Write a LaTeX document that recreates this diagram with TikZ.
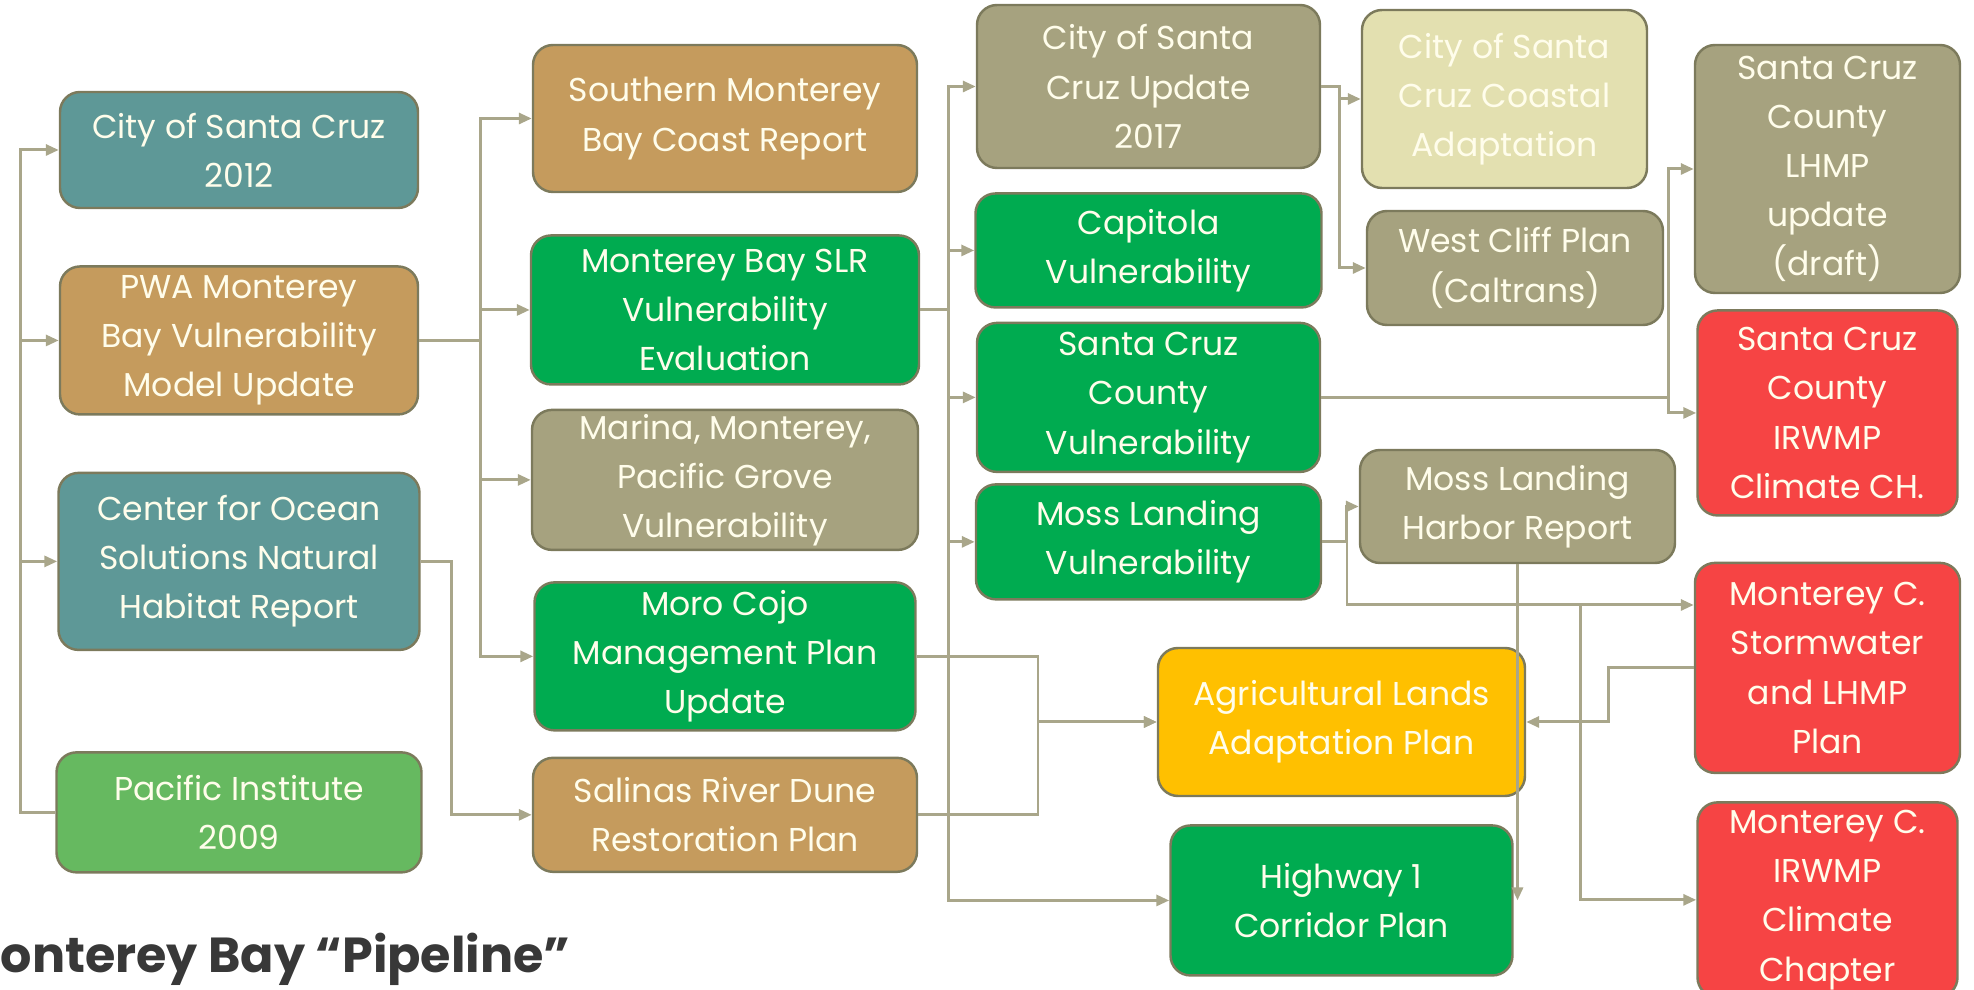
\documentclass[tikz,border=0pt]{standalone}
\usepackage{fontspec}
\setmainfont{Poppins}
\usepackage{xcolor}
\usetikzlibrary{positioning, arrows.meta}

\definecolor{boxteal}{HTML}{5E9897}
\definecolor{boxtan}{HTML}{C59B5D}
\definecolor{boxkhaki}{HTML}{A6A27F}
\definecolor{boxpale}{HTML}{E3E0B0}
\definecolor{boxgreen}{HTML}{00AB50}
\definecolor{boxlime}{HTML}{66B960}
\definecolor{boxamber}{HTML}{FFC000}
\definecolor{boxred}{HTML}{F64444}
\definecolor{rim}{HTML}{7C7A5C}
\definecolor{wirecol}{HTML}{A9A68A}
\definecolor{cream}{HTML}{FFFDEB}
\definecolor{titlegray}{HTML}{383838}

\tikzset{
  box/.style={rectangle, rounded corners=2mm, draw=rim, line width=0.7pt,
    text=cream, align=center, inner sep=0pt,
    font=\fontsize{9.4}{14}\selectfont},
  dims/.style 2 args={minimum width=#1, minimum height=#2},
  wire/.style={draw=wirecol, line width=0.85pt,
    -{Triangle[length=1.3mm, width=1.1mm]}}
}

\begin{document}
\begin{tikzpicture}[x=0.1mm, y=-0.1mm]
  \useasboundingbox (0,0) rectangle (1974,990);
  \clip (0,0) rectangle (1974,990);

  % sources on the left
  \node[box, fill=boxteal, dims={35.8mm}{11.6mm}] (cs12) at (239,150) {City of Santa Cruz\\2012};
  \node[box, fill=boxtan, dims={35.8mm}{14.8mm}, below=5.6mm of cs12] (pwa) {PWA Monterey\\Bay Vulnerability\\Model Update};
  \node[box, fill=boxteal, dims={36.1mm}{17.7mm}, below=5.6mm of pwa] (cos) {Center for Ocean\\Solutions Natural\\Habitat Report};
  \node[box, fill=boxlime, dims={36.5mm}{12mm}, below=10mm of cos] (pac) {Pacific Institute\\2009};

  % second column
  \node[box, fill=boxtan, dims={38.4mm}{14.7mm}] (smb) at (725,118.5) {Southern Monterey\\Bay Coast Report};
  \node[box, fill=boxgreen, dims={38.8mm}{14.9mm}, below=4.1mm of smb] (slr) {Monterey Bay SLR\\Vulnerability\\Evaluation};
  \node[box, fill=boxkhaki, dims={38.6mm}{14mm}, below=2.3mm of slr] (mmp) {Marina, Monterey,\\Pacific Grove\\Vulnerability};
  \node[box, fill=boxgreen, dims={38.1mm}{14.8mm}, below=3mm of mmp] (moro) {Moro Cojo\\Management Plan\\Update};
  \node[box, fill=boxtan, dims={38.4mm}{11.4mm}, below=2.5mm of moro] (sal) {Salinas River Dune\\Restoration Plan};

  % third column
  \node[box, fill=boxkhaki, dims={34.3mm}{16.3mm}] (up17) at (1148.5,86.5) {City of Santa\\Cruz Update\\2017};
  \node[box, fill=boxgreen, dims={34.6mm}{11.4mm}, below=2.3mm of up17] (cap) {Capitola\\Vulnerability};
  \node[box, fill=boxgreen, dims={34.3mm}{14.9mm}, below=1.3mm of cap] (scv) {Santa Cruz\\County\\Vulnerability};
  \node[box, fill=boxgreen, dims={34.5mm}{11.5mm}, below=1mm of scv] (mlv) {Moss Landing\\Vulnerability};

  % fourth column
  \node[box, fill=boxpale, dims={28.5mm}{17.8mm}] (cca) at (1504.5,99) {City of Santa\\Cruz Coastal\\Adaptation};
  \node[box, fill=boxkhaki, dims={29.6mm}{11.4mm}] (wcp) at (1515,268) {West Cliff Plan\\(Caltrans)};
  \node[box, fill=boxkhaki, dims={31.5mm}{11.3mm}] (mlh) at (1517.5,506.5) {Moss Landing\\Harbor Report};
  \node[box, fill=boxamber, dims={36.7mm}{14.8mm}] (agr) at (1341.5,722) {Agricultural Lands\\Adaptation Plan};
  \node[box, fill=boxgreen, dims={34.2mm}{15mm}, below=2.7mm of agr] (hwy) {Highway 1\\Corridor Plan};

  % county plans on the right
  \node[box, fill=boxkhaki, dims={26.5mm}{24.8mm}] (lhmp) at (1827.5,169) {Santa Cruz\\County\\LHMP\\update\\(draft)};
  \node[box, fill=boxred, dims={26mm}{20.5mm}, below=1.5mm of lhmp] (scirw) {Santa Cruz\\County\\IRWMP\\Climate CH.};
  \node[box, fill=boxred, dims={26.5mm}{21mm}, below=4.5mm of scirw] (mcsw) {Monterey C.\\Stormwater\\and LHMP\\Plan};
  \node[box, fill=boxred, dims={26mm}{19.5mm}, below=2.7mm of mcsw] (mcirw) {Monterey C.\\IRWMP\\Climate\\Chapter};

  \node[anchor=base west, inner sep=0pt, text=titlegray, font=\fontsize{14}{16}\selectfont\bfseries] (title) at (0,973) {onterey Bay “Pipeline”};

  % junctions
  \coordinate (mlj) at (1347,605);
  \coordinate (swj) at (1580,605);
  \coordinate (agj) at (1038,722);

  \draw[wire] (pac.west) -- ++(-35,0) |- (cs12.west);
  \draw[wire] (pac.west) -- ++(-35,0) |- (pwa.west);
  \draw[wire] (pac.west) -- ++(-35,0) |- (cos.west);

  \draw[wire] (pwa.east) -- ++(61,0) |- (smb.west);
  \draw[wire] (pwa.east) -- ++(61,0) |- (slr.west);
  \draw[wire] (pwa.east) -- ++(61,0) |- (mmp.west);
  \draw[wire] (pwa.east) -- ++(61,0) |- (moro.west);
  \draw[wire] (cos.east) -- ++(31,0) |- (sal.west);

  \draw[wire] (slr.east) -- ++(28,0) |- (up17.west);
  \draw[wire] (slr.east) -- ++(28,0) |- (cap.west);
  \draw[wire] (slr.east) -- ++(28,0) |- (scv.west);
  \draw[wire] (slr.east) -- ++(28,0) |- (mlv.west);
  \draw[wire] (slr.east) -- ++(28,0) |- (hwy.west);

  \draw[wire] (up17.east) -- ++(18,0) |- (cca.west);
  \draw[wire] (up17.east) -- ++(18,0) |- (wcp.west);
  \draw[wire] (scv.east) -- ++(347,0) |- (lhmp.west);
  \draw[wire] (scv.east) -- ++(347,0) |- (scirw.west);

  \draw[wire] (mlv.east) -- ++(24,0) |- (mlh.west);
  \draw[wire] (mlv.east) -| (mlj) -- (mlj -| mcsw.west);
  \draw[wire] (swj) |- (mcirw.west);
  \draw[wire] (mlh.south) -- (mlh.south |- hwy.east);

  \draw[wire] (moro.east) -| (agj) -- (agr.west);
  \draw[wire] (sal.east) -| (agj) -- (agr.west);
  \draw[wire] (mcsw.west) -- ++(-85,0) |- (agr.east);
\end{tikzpicture}
\end{document}
